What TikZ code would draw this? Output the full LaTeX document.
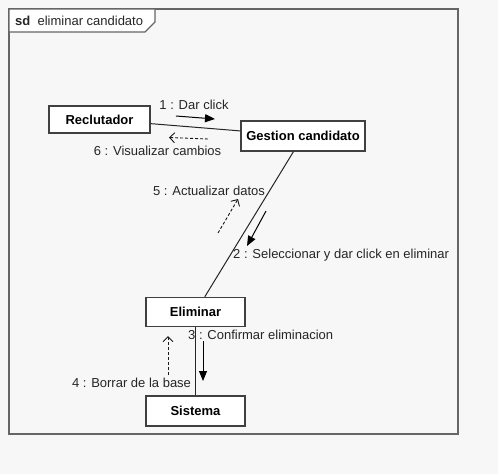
\documentclass[tikz,border=0pt]{standalone}
\usepackage{fontspec}
\setmainfont{Liberation Sans}
\usetikzlibrary{arrows.meta}
\usetikzlibrary{positioning}

\begin{document}
\begin{tikzpicture}[x=1pt,y=-1pt,
    object/.style={draw=black!75, line width=1.4pt, fill=white, inner sep=0pt,
        font=\fontsize{13}{15}\selectfont\bfseries},
    link/.style={draw=black!85, line width=1pt},
    call/.style={draw=black, line width=1pt, -{Triangle[length=10pt,width=8pt]}},
    reply/.style={draw=black!90, line width=0.9pt, dash pattern=on 3pt off 2pt,
        -{Straight Barb[length=5pt,width=10pt]}},
    msg/.style={font=\fontsize{13}{15}\selectfont, text=black!85, inner sep=0pt}]
    \fill[black!3] (0,0) rectangle (498,474);
    \useasboundingbox (0,0) rectangle (498,474);
    \draw[black!60, line width=1.5pt] (9,9) rectangle (458,434);
    \draw[black!60, line width=1.2pt, fill=white] (9,9) -- (9,32) -- (145,32) -- (155,22) -- (155,9) -- cycle;
    \node [msg, anchor=west] (title) at (15,21) {\textbf{sd}\ \ eliminar candidato};
    \node [object, minimum width=101pt, minimum height=27pt] (rec) at (99.5,119.5) {Reclutador};
    \node [object, minimum width=124pt, minimum height=30pt] (ges) at (303,136) {Gestion candidato};
    \node [object, minimum width=99pt, minimum height=29pt] (eli) at (195.5,312) {Eliminar};
    \node [object, minimum width=99pt, minimum height=30pt] (sis) at (195.5,411) {Sistema};
    \draw [link] (rec) -- (ges);
    \draw [link] (ges) -- (eli);
    \draw [link] (eli) -- (sis);
    \coordinate (m1a) at (176,116);
    \coordinate (m1b) at (215,119);
    \draw [call] (m1a) -- (m1b);
    \node [msg] (m1) at (194,105) {1 : Dar click};
    \coordinate (m2a) at (266,211);
    \coordinate (m2b) at (247,246);
    \draw [call] (m2a) -- (m2b);
    \node [msg, anchor=west] (m2) at (233,255) {2 : Seleccionar y dar click en eliminar};
    \coordinate (m3a) at (203,341);
    \coordinate (m3b) at (203,381);
    \draw [call] (m3a) -- (m3b);
    \node [msg, anchor=west] (m3) at (188,335) {3 : Confirmar eliminacion};
    \coordinate (m4a) at (168,375);
    \coordinate (m4b) at (168,336);
    \draw [reply] (m4a) -- (m4b);
    \node [msg] (m4) at (131.5,383) {4 : Borrar de la base};
    \coordinate (m5a) at (218,233);
    \coordinate (m5b) at (238,199);
    \draw [reply] (m5a) -- (m5b);
    \node [msg] (m5) at (209,191) {5 : Actualizar datos};
    \coordinate (m6a) at (208,139);
    \coordinate (m6b) at (169,137.5);
    \draw [reply] (m6a) -- (m6b);
    \node [msg] (m6) at (157.5,151) {6 : Visualizar cambios};
\end{tikzpicture}
\end{document}
